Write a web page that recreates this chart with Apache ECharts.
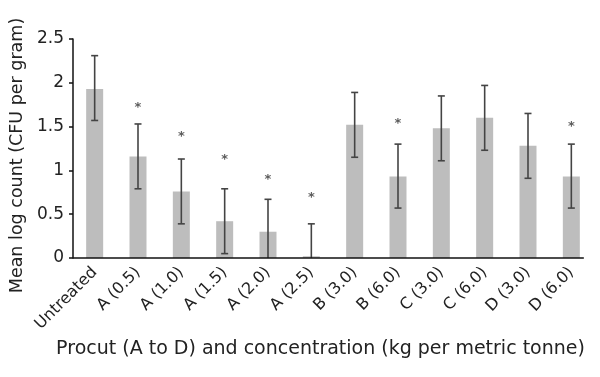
<!DOCTYPE html>
<html>
<head>
<meta charset="utf-8">
<script src="https://cdn.jsdelivr.net/npm/echarts@6/dist/echarts.min.js"></script>
<style>html,body{margin:0;padding:0;background:#fff}#c{width:600px;height:377px}</style>
</head>
<body>
<div id="c"></div>
<script>
const categories = ['Untreated','A (0.5)','A (1.0)','A (1.5)','A (2.0)','A (2.5)','B (3.0)','B (6.0)','C (3.0)','C (6.0)','D (3.0)','D (6.0)'];
const means = [1.93, 1.16, 0.76, 0.42, 0.30, 0.02, 1.52, 0.93, 1.48, 1.60, 1.28, 0.93];
const errLow = [1.57, 0.79, 0.39, 0.05, 0, 0, 1.15, 0.57, 1.11, 1.23, 0.91, 0.57];
const errHigh = [2.31, 1.53, 1.13, 0.79, 0.67, 0.39, 1.89, 1.30, 1.85, 1.97, 1.65, 1.30];
const starPos = [null, 1.72, 1.38, 1.12, 0.90, 0.69, null, 1.53, null, null, null, 1.50];
const yTicks = [0, 0.5, 1, 1.5, 2, 2.5];

const FONT = 'DejaVu Sans';
const chart = echarts.init(document.getElementById('c'));
const errData = categories.map((c, i) => [i, errLow[i], errHigh[i]]);
const starData = categories.map((c, i) => starPos[i] == null ? null : [i, starPos[i]]).filter(d => d);

chart.setOption({
  animation: false,
  grid: { left: 73, right: 7, top: 39, bottom: 119, containLabel: false },
  xAxis: {
    type: 'category',
    data: categories,
    axisLine: { show: false },
    axisTick: { show: false },
    axisLabel: { rotate: 45, margin: 12, fontFamily: FONT, fontSize: 16, color: '#222', interval: 0 },
    name: 'Procut (A to D) and concentration (kg per metric tonne)',
    nameLocation: 'middle',
    nameGap: 77,
    nameTextStyle: { fontFamily: FONT, fontSize: 19, color: '#222', padding: [0, 25, 0, 0] }
  },
  yAxis: {
    type: 'value',
    min: 0, max: 2.5, interval: 0.5,
    axisLine: { show: true, lineStyle: { color: '#111', width: 1.5 } },
    axisTick: { show: true, length: 4, lineStyle: { color: '#111', width: 1.5 } },
    splitLine: { show: false },
    axisLabel: { fontFamily: FONT, fontSize: 17, color: '#222', margin: 9,
      formatter: v => yTicks.indexOf(v) >= 0 ? String(v) : '' },
    name: 'Mean log count (CFU per gram)',
    nameLocation: 'middle',
    nameGap: 46,
    nameTextStyle: { fontFamily: FONT, fontSize: 17.5, color: '#222', padding: [0, 14, 0, 0] }
  },
  series: [
    {
      type: 'bar', data: means, barWidth: 17,
      itemStyle: { color: '#bdbdbd' }
    },
    {
      type: 'custom', data: errData, z: 5,
      renderItem: function (params, api) {
        const x = api.value(0);
        const lo = api.coord([x, api.value(1)]);
        const hi = api.coord([x, api.value(2)]);
        const hw = 3.5;
        const st = { stroke: '#444', lineWidth: 1.6 };
        const ch = [
          { type: 'line', shape: { x1: hi[0], y1: hi[1], x2: lo[0], y2: lo[1] }, style: st },
          { type: 'line', shape: { x1: hi[0] - hw, y1: hi[1], x2: hi[0] + hw, y2: hi[1] }, style: st }
        ];
        if (api.value(1) > 0) ch.push({ type: 'line', shape: { x1: lo[0] - hw, y1: lo[1], x2: lo[0] + hw, y2: lo[1] }, style: st });
        return { type: 'group', children: ch };
      }
    },
    {
      type: 'scatter', data: starData, symbolSize: 0, z: 6,
      label: { show: true, position: 'inside', formatter: '*', fontFamily: FONT, fontSize: 13, fontWeight: 'bold', color: '#333' }
    }
  ]
});

const p0 = chart.convertToPixel({ xAxisIndex: 0, yAxisIndex: 0 }, [0, 0]);
const pN = chart.convertToPixel({ xAxisIndex: 0, yAxisIndex: 0 }, [categories.length - 1, 0]);
chart.setOption({
  graphic: [{
    type: 'line', z: 10,
    shape: { x1: 73, y1: p0[1], x2: pN[0] + 12.5, y2: p0[1] },
    style: { stroke: '#111', lineWidth: 1.5 }
  }]
});
</script>
</body>
</html>
